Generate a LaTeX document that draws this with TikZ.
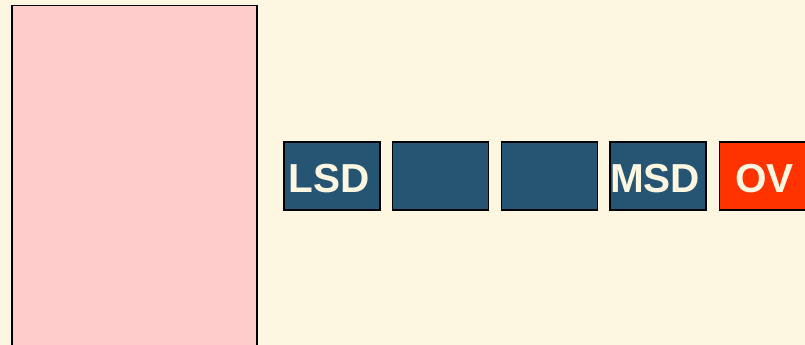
\documentclass[tikz,border=0pt]{standalone}
\usepackage{fontspec}
\setmainfont{Liberation Sans}
\definecolor{bgc}{HTML}{FDF6E1}
\definecolor{pinkc}{HTML}{FFCCCC}
\definecolor{navyc}{HTML}{265473}
\definecolor{redc}{HTML}{FF3300}
\definecolor{txtc}{HTML}{FDF6E1}
\tikzset{
  digit/.style={draw=black, line width=1.3pt, fill=navyc, minimum width=96pt, minimum height=68pt, inner sep=0pt, outer sep=0pt, anchor=north west},
  ovbox/.style={digit, fill=redc},
  digtext/.style={text=txtc, font=\fontsize{40.5}{40.5}\selectfont\bfseries, inner sep=0pt},
  pinkbox/.style={draw=black, line width=1.3pt, fill=pinkc}
}
\begin{document}
\begin{tikzpicture}[x=1pt,y=-1pt]
\clip (0,0) rectangle (805,345);
\fill[bgc] (0,0) rectangle (805,345);
\useasboundingbox (0,0) rectangle (805,345);
\draw[pinkbox] (12,5.5) rectangle (257,360);
\node[digit] (lsd) at (284,142) {};
\node[digit] (d2) at (392.7,142) {};
\node[digit] (d3) at (501.3,142) {};
\node[digit] (msd) at (610,142) {};
\node[ovbox] (ov) at (719.3,142) {};
\node[digtext] (lsdt) at ([shift={(-3,3)}]lsd.center) {LSD};
\node[digtext] (msdt) at ([shift={(-3,3)}]msd.center) {MSD};
\node[digtext] (ovt) at ([shift={(-3,3)}]ov.center) {OV};
\end{tikzpicture}
\end{document}
